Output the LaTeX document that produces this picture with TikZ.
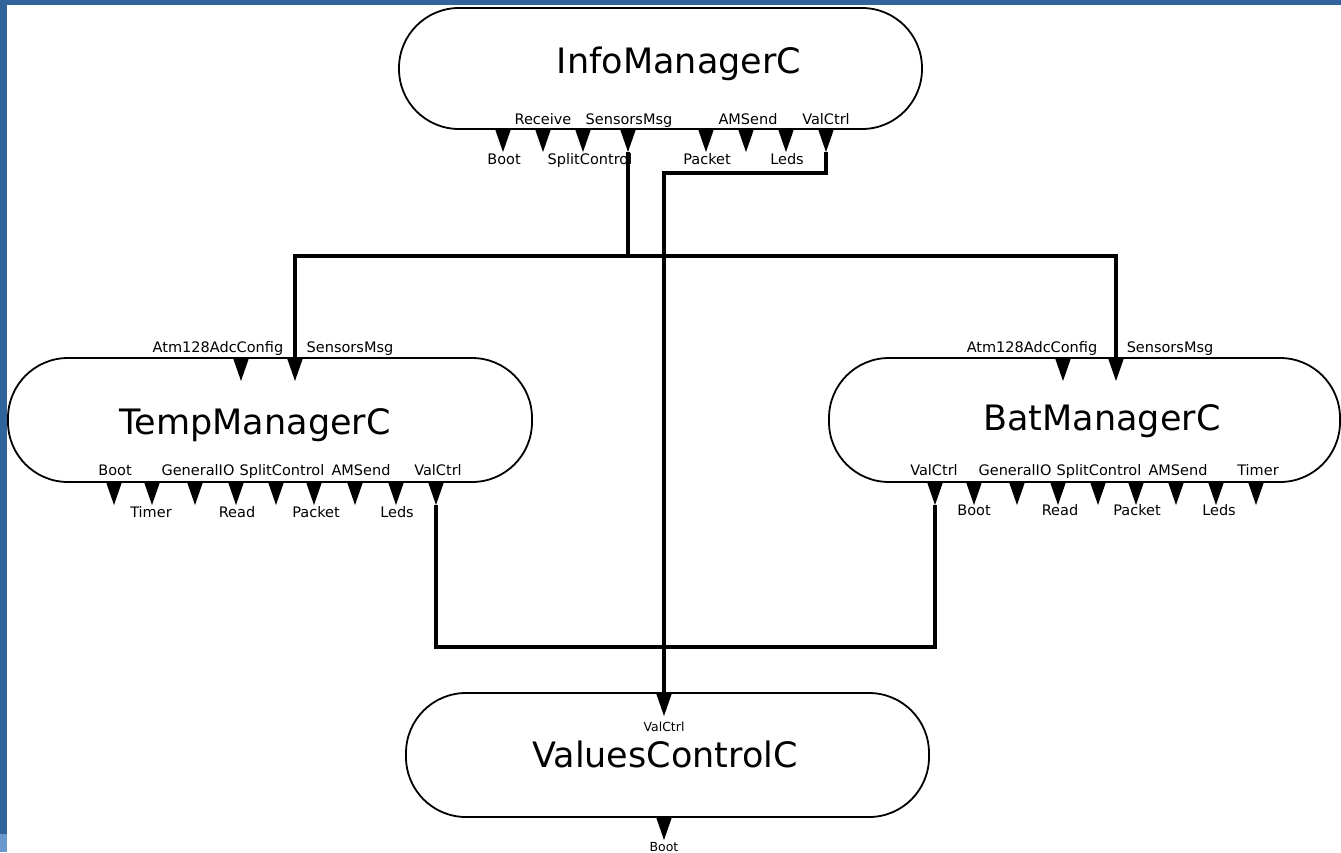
\documentclass[tikz,border=0pt]{standalone}
\usepackage{fontspec}
\setmainfont{DejaVu Sans}
\definecolor{frameblue}{RGB}{47,99,153}
\definecolor{framelight}{RGB}{104,152,205}
\begin{document}
\begin{tikzpicture}[x=1pt,y=-1pt,
  comp/.style={draw=black, line width=1.8pt, fill=white, rounded corners=60pt, inner sep=0pt},
  title/.style={font=\fontsize{35}{40}\selectfont, anchor=base, inner sep=0pt},
  lab/.style={font=\fontsize{14.5}{16}\selectfont, anchor=base, inner sep=0pt},
  slab/.style={font=\fontsize{12.5}{14}\selectfont, anchor=base, inner sep=0pt},
  port/.style={anchor=north, inner sep=0pt, outer sep=0pt, minimum width=16pt, minimum height=23pt,
    path picture={\fill[black] (path picture bounding box.north west) -- (path picture bounding box.north east) -- (path picture bounding box.south) -- cycle;}},
  wire/.style={line width=3.5pt, line join=miter}]
\useasboundingbox (0,0) rectangle (1341,852);
\fill[white] (0,0) rectangle (1341,852);
\fill[frameblue] (0,0) rectangle (1341,5);
\fill[frameblue] (0,0) rectangle (7,852);
\fill[framelight] (0,834) rectangle (7,852);

% components
\node[comp, minimum width=523pt, minimum height=121pt] (info) at (660.5,68.5) {};
\node[comp, minimum width=524pt, minimum height=124pt] (temp) at (270,420) {};
\node[comp, minimum width=511pt, minimum height=124pt] (bat) at (1084.5,420) {};
\node[comp, minimum width=523pt, minimum height=124pt] (vals) at (667.5,755) {};

\node[title] (infoT) at (679,73) {InfoManagerC};
\node[title] (tempT) at (255,434) {TempManagerC};
\node[title] (batT) at (1102,430) {BatManagerC};
\node[title] (valsT) at (665,767) {ValuesControlC};

% InfoManagerC ports
\node[port] (iBoot) at (503,129) {};
\node[port] (iRecv) at (543,129) {};
\node[port] (iSplit) at (583,129) {};
\node[port] (iSens) at (628,129) {};
\node[port] (iPkt) at (706,129) {};
\node[port] (iAMS) at (746,129) {};
\node[port] (iLeds) at (786,129) {};
\node[port] (iVal) at (826,129) {};
\node[lab] at (543,124) {Receive};
\node[lab] at (629,124) {SensorsMsg};
\node[lab] at (748,124) {AMSend};
\node[lab] at (826,124) {ValCtrl};
\node[lab] at (504,164) {Boot};
\node[lab] at (590,164) {SplitControl};
\node[lab] at (707,164) {Packet};
\node[lab] at (787,164) {Leds};

% TempManagerC ports
\node[port] (tAtm) at (241,358) {};
\node[port] (tSens) at (295,358) {};
\node[lab] at (218,352) {Atm128AdcConfig};
\node[lab] at (350,352) {SensorsMsg};
\node[port] (tBoot) at (114,482) {};
\node[port] (tTimer) at (152,482) {};
\node[port] (tGIO) at (195,482) {};
\node[port] (tRead) at (236,482) {};
\node[port] (tSplit) at (276,482) {};
\node[port] (tPkt) at (314,482) {};
\node[port] (tAMS) at (355,482) {};
\node[port] (tLeds) at (396,482) {};
\node[port] (tVal) at (436,482) {};
\node[lab] at (115,475) {Boot};
\node[lab] at (198,475) {GeneralIO};
\node[lab] at (282,475) {SplitControl};
\node[lab] at (361,475) {AMSend};
\node[lab] at (438,475) {ValCtrl};
\node[lab] at (151,517) {Timer};
\node[lab] at (237,517) {Read};
\node[lab] at (316,517) {Packet};
\node[lab] at (397,517) {Leds};

% BatManagerC ports
\node[port] (bAtm) at (1063,358) {};
\node[port] (bSens) at (1116,358) {};
\node[lab] at (1032,352) {Atm128AdcConfig};
\node[lab] at (1170,352) {SensorsMsg};
\node[port] (bVal) at (935,482) {};
\node[port] (bBoot) at (974,482) {};
\node[port] (bGIO) at (1017,482) {};
\node[port] (bRead) at (1058,482) {};
\node[port] (bSplit) at (1098,482) {};
\node[port] (bPkt) at (1136,482) {};
\node[port] (bAMS) at (1176,482) {};
\node[port] (bLeds) at (1216,482) {};
\node[port] (bTimer) at (1256,482) {};
\node[lab] at (934,475) {ValCtrl};
\node[lab] at (1015,475) {GeneralIO};
\node[lab] at (1099,475) {SplitControl};
\node[lab] at (1178,475) {AMSend};
\node[lab] at (1258,475) {Timer};
\node[lab] at (974,515) {Boot};
\node[lab] at (1060,515) {Read};
\node[lab] at (1137,515) {Packet};
\node[lab] at (1219,515) {Leds};

% ValuesControlC ports
\node[port] (vVal) at (664,693) {};
\node[port] (vBoot) at (664,817) {};
\node[slab] at (664,731) {ValCtrl};
\node[slab] at (664,851) {Boot};

% wires
\draw[wire] (iSens.south) -- ++(0,104) coordinate (bus);
\draw[wire] (tSens.north) |- (bus) -| (bSens.north);
\draw[wire] (iVal.south) -- ++(0,21) -| (vVal.north);
\draw[wire] (tVal.south) -- ++(0,142) -| (bVal.south);
\end{tikzpicture}
\end{document}
